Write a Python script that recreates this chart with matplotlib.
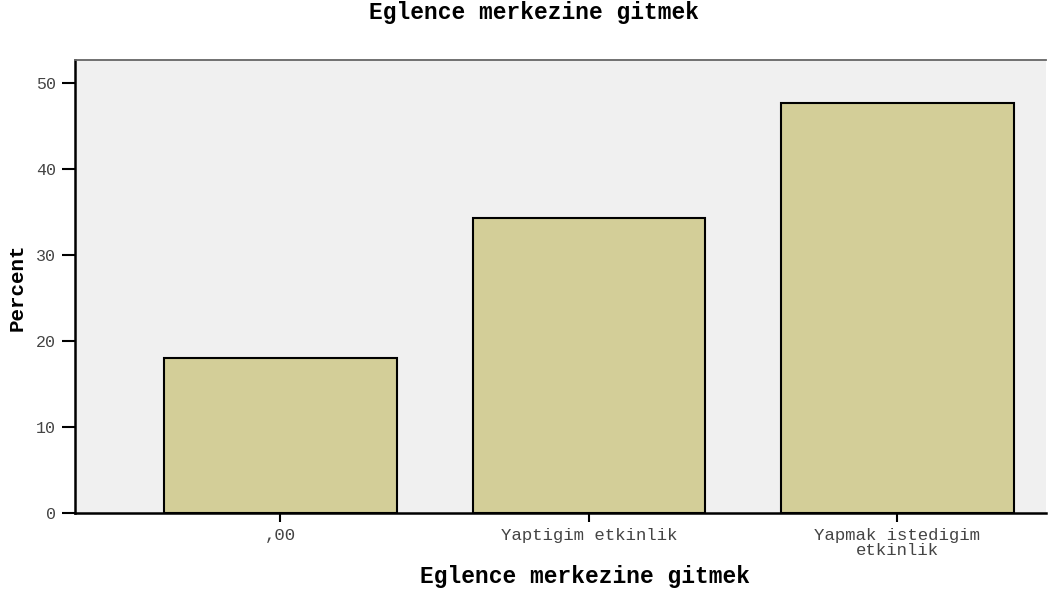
import matplotlib.pyplot as plt

# values
categories = [",00", "Yaptigim etkinlik", "Yapmak istedigim\netkinlik"]
percent = [18.0, 34.3, 47.7]
yticks = [0, 10, 20, 30, 40, 50]

mono = "Liberation Mono"

fig = plt.figure(figsize=(10.49, 5.93), dpi=100)
ax = fig.add_axes([0.0715, 0.1349, 0.9255, 0.7639])
ax.set_facecolor("#f0f0f0")

x = range(len(categories))
ax.bar(x, percent, width=0.753, color="#d3ce98", edgecolor="black", linewidth=1.5)

ax.set_xlim(-0.666, 2.481)
ax.set_ylim(0, 52.65)
ax.set_xticks(list(x))
ax.set_xticklabels(categories, fontfamily=mono, fontsize=12.5, color="#444444",
                   linespacing=1.05)
ax.set_yticks(yticks)
ax.set_yticklabels([str(v) for v in yticks], fontfamily=mono, fontsize=12,
                   color="#444444")
ax.tick_params(axis="x", length=6.5, width=1.5, pad=4, color="black")
ax.tick_params(axis="y", length=9.5, width=1.5, pad=4, color="black")

for side in ["left", "bottom"]:
    ax.spines[side].set_linewidth(1.8)
    ax.spines[side].set_color("black")
ax.spines["top"].set_linewidth(1.3)
ax.spines["top"].set_color("#666666")
ax.spines["right"].set_visible(False)

fig.text(534 / 1049, 1 - 12 / 593, "Eglence merkezine gitmek", ha="center", va="center",
         fontfamily=mono, fontsize=16.5, fontweight="bold")
fig.text(585 / 1049, 1 - 577 / 593, "Eglence merkezine gitmek", ha="center", va="center",
         fontfamily=mono, fontsize=16.5, fontweight="bold")
fig.text(17 / 1049, 1 - 287 / 593, "Percent", ha="center", va="center", rotation=90,
         fontfamily=mono, fontsize=15, fontweight="bold")

fig.savefig("out.png", dpi=100)
plt.close()
